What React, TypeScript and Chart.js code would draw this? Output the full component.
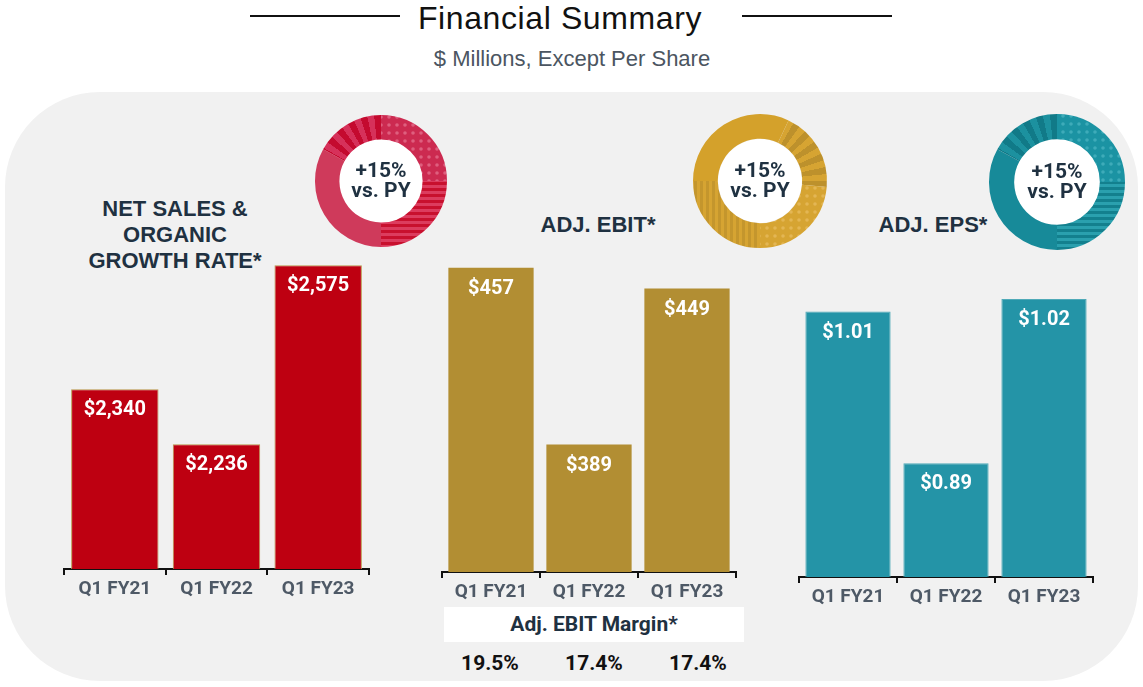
import React, { useEffect, useRef } from 'react';
import { Chart, registerables } from 'chart.js';

Chart.register(...registerables);

// ---------- data ----------
const categories = ['Q1 FY21', 'Q1 FY22', 'Q1 FY23'];
const netSales = [2340, 2236, 2575];
const adjEbit = [457, 389, 449];
const adjEps = [1.01, 0.89, 1.02];
const ebitMargins = ['19.5%', '17.4%', '17.4%'];
const growthVsPY = ['+15%', '+15%', '+15%'];

// decorative ring shares (percent of ring) and their fill styles
const redRingShares = [25, 25, 33, 17];
const redRingKinds = ['dots', 'hstripes', 'solid', 'radial'];
const goldRingShares = [32, 19.4, 23.6, 25];
const goldRingKinds = ['solid', 'radial', 'dots', 'vstripes'];
const tealRingShares = [25, 25, 33, 17];
const tealRingKinds = ['dots', 'hstripes', 'solid', 'radial'];

const DARK = '#1f3141';
const TICK = '#4e5966';

type Palette = { solid: string; a: string; b: string };

const redPal: Record<string, Palette> = {
  solid: { solid: '#cf3a5b', a: '#cf3a5b', b: '#cf3a5b' },
  dots: { solid: '#cc2a50', a: '#cc2a50', b: '#de5f7e' },
  hstripes: { solid: '#c8102e', a: '#c8102e', b: '#dc3c5e' },
  radial: { solid: '#c70d31', a: '#c40a2f', b: '#d6315a' },
};
const goldPal: Record<string, Palette> = {
  solid: { solid: '#d4a12b', a: '#d4a12b', b: '#d4a12b' },
  dots: { solid: '#d6a432', a: '#d6a432', b: '#e3b654' },
  vstripes: { solid: '#cc9a2c', a: '#c4962d', b: '#d6a432' },
  radial: { solid: '#c99a2a', a: '#bd912c', b: '#d6a432' },
};
const tealPal: Record<string, Palette> = {
  solid: { solid: '#178a99', a: '#178a99', b: '#178a99' },
  dots: { solid: '#1b93a3', a: '#1b93a3', b: '#3eabb9' },
  hstripes: { solid: '#13808e', a: '#13808e', b: '#2aa0ae' },
  radial: { solid: '#137e8c', a: '#117a88', b: '#1c919f' },
};

function makePattern(kind: string, p: Palette): CanvasPattern | string {
  const c = document.createElement('canvas');
  const g = c.getContext('2d');
  if (!g) return p.solid;
  if (kind === 'dots') {
    c.width = 8; c.height = 8;
    g.fillStyle = p.a; g.fillRect(0, 0, 8, 8);
    g.fillStyle = p.b; g.beginPath(); g.arc(4, 4, 1.8, 0, Math.PI * 2); g.fill();
  } else if (kind === 'hstripes') {
    c.width = 6; c.height = 6;
    g.fillStyle = p.a; g.fillRect(0, 0, 6, 6);
    g.fillStyle = p.b; g.fillRect(0, 0, 6, 3);
  } else if (kind === 'vstripes') {
    c.width = 6; c.height = 6;
    g.fillStyle = p.a; g.fillRect(0, 0, 6, 6);
    g.fillStyle = p.b; g.fillRect(0, 0, 3, 6);
  } else {
    return p.solid;
  }
  const host = document.createElement('canvas').getContext('2d');
  return (host && host.createPattern(c, 'repeat')) || p.solid;
}

function Donut(props: {
  cx: number; cy: number; r: number; shares: number[]; kinds: string[];
  pal: Record<string, Palette>; rotation: number; text: string;
}) {
  const ref = useRef<HTMLCanvasElement>(null);
  const { cx, cy, r, shares, kinds, pal, rotation, text } = props;
  const size = r * 2 + 4;
  useEffect(() => {
    const fills = kinds.map((k) => makePattern(k, pal[k]));
    const chart = new Chart(ref.current as HTMLCanvasElement, {
      type: 'doughnut',
      data: {
        labels: kinds,
        datasets: [{
          data: shares,
          borderWidth: 0,
          backgroundColor: (ctx: any) => {
            const k = kinds[ctx.dataIndex];
            if (k === 'radial') {
              const ch = ctx.chart;
              const area = ch.chartArea;
              if (!area || !(ch.ctx as any).createConicGradient) return pal[k].solid;
              const x = (area.left + area.right) / 2;
              const y = (area.top + area.bottom) / 2;
              const grad = (ch.ctx as any).createConicGradient(0, x, y);
              const n = 60;
              for (let i = 0; i < n; i++) {
                const col = i % 2 === 0 ? pal[k].a : pal[k].b;
                grad.addColorStop(i / n, col);
                grad.addColorStop((i + 1) / n - 0.0001, col);
              }
              return grad;
            }
            return fills[ctx.dataIndex];
          },
        }],
      },
      options: {
        animation: false,
        responsive: false,
        maintainAspectRatio: false,
        cutout: '63%',
        rotation,
        layout: { padding: 2 },
        plugins: { legend: { display: false }, tooltip: { enabled: false } },
      },
    });
    return () => chart.destroy();
  }, []);
  const inner = r * 0.63;
  const lines = [text, 'vs. PY'];
  return (
    <>
      <div style={{
        position: 'absolute', left: cx - inner, top: cy - inner, width: inner * 2, height: inner * 2,
        borderRadius: '50%', background: '#ffffff',
      }} />
      <canvas ref={ref} width={size} height={size}
        style={{ position: 'absolute', left: cx - size / 2, top: cy - size / 2, width: size, height: size }} />
      <div style={{
        position: 'absolute', left: cx - 50, top: cy - 21, width: 100, textAlign: 'center',
        fontFamily: 'Roboto', fontWeight: 700, fontSize: 21, lineHeight: '20px', color: DARK,
      }}>
        {lines.map((l, i) => <div key={i}>{l}</div>)}
      </div>
    </>
  );
}

function BarPanel(props: {
  left: number; top: number; width: number; height: number;
  values: number[]; min: number; max: number; color: string; border: string; borderWidth: number;
  fmt: (v: number) => string; barPct: number;
}) {
  const ref = useRef<HTMLCanvasElement>(null);
  const { left, top, width, height, values, min, max, color, border, borderWidth, fmt, barPct } = props;
  useEffect(() => {
    const labelPlugin = {
      id: 'barValues',
      afterDatasetsDraw(chart: any) {
        const ctx = chart.ctx;
        const meta = chart.getDatasetMeta(0);
        ctx.save();
        ctx.fillStyle = '#ffffff';
        ctx.font = 'bold 20px Roboto';
        ctx.textAlign = 'center';
        ctx.textBaseline = 'middle';
        meta.data.forEach((el: any, i: number) => {
          ctx.fillText(fmt(values[i]), el.x, el.y + 21);
        });
        ctx.restore();
      },
    };
    const chart = new Chart(ref.current as HTMLCanvasElement, {
      type: 'bar',
      data: {
        labels: categories,
        datasets: [{
          data: values,
          backgroundColor: color,
          borderColor: border,
          borderWidth,
          barPercentage: barPct,
          categoryPercentage: 1,
        }],
      },
      options: {
        animation: false,
        responsive: false,
        maintainAspectRatio: false,
        layout: { padding: { left: 4, right: 4, top: 0, bottom: 0 } },
        plugins: { legend: { display: false }, tooltip: { enabled: false } },
        scales: {
          x: {
            grid: {
              display: true, drawOnChartArea: false, drawTicks: true, tickLength: 6,
              color: '#111', lineWidth: 2, offset: true,
            },
            border: { display: true, color: '#111', width: 2 },
            ticks: { color: TICK, font: { family: 'Roboto', weight: 'bold', size: 19 }, padding: 3 },
            afterFit: (s: any) => { s.height = 40; },
          },
          y: { display: false, min, max },
        },
      },
      plugins: [labelPlugin],
    });
    return () => chart.destroy();
  }, []);
  return <canvas ref={ref} width={width} height={height}
    style={{ position: 'absolute', left, top, width, height }} />;
}

const money0 = (v: number) => '$' + v.toLocaleString('en-US');
const money2 = (v: number) => '$' + v.toFixed(2);

const titleStyle: React.CSSProperties = {
  position: 'absolute', fontFamily: '"Liberation Sans", Arial, sans-serif', fontWeight: 700,
  fontSize: 22, lineHeight: '26px', color: DARK, textAlign: 'center',
};

export default function App() {
  return (
    <div style={{ position: 'absolute', left: 0, top: 0, width: 1143, height: 687, background: '#ffffff', overflow: 'hidden' }}>
      {/* header */}
      <div style={{ position: 'absolute', left: 250, top: 15, width: 150, height: 2, background: '#111' }} />
      <div style={{ position: 'absolute', left: 742, top: 15, width: 150, height: 2, background: '#111' }} />
      <div style={{
        position: 'absolute', left: 360, top: -1, width: 400, textAlign: 'center',
        fontFamily: '"Liberation Sans", Arial, sans-serif', fontSize: 32, lineHeight: '38px',
        letterSpacing: 0.6, color: '#111',
      }}>Financial Summary</div>
      <div style={{
        position: 'absolute', left: 372, top: 45, width: 400, textAlign: 'center',
        fontFamily: '"Liberation Sans", Arial, sans-serif', fontSize: 22, lineHeight: '28px',
        color: '#4b5561',
      }}>$ Millions, Except Per Share</div>

      {/* panel background */}
      <div style={{
        position: 'absolute', left: 5, top: 92, width: 1133, height: 589,
        background: '#f1f1f1', borderRadius: 95,
      }} />

      {/* titles */}
      <div style={{ ...titleStyle, left: 55, top: 196, width: 240 }}>
        <div>NET SALES &amp;</div><div>ORGANIC</div><div>GROWTH RATE*</div>
      </div>
      <div style={{ ...titleStyle, left: 478, top: 212, width: 240 }}>ADJ. EBIT*</div>
      <div style={{ ...titleStyle, left: 813, top: 212, width: 240 }}>ADJ. EPS*</div>

      {/* donuts */}
      <Donut cx={381} cy={181} r={66} shares={redRingShares} kinds={redRingKinds} pal={redPal} rotation={0} text={growthVsPY[0]} />
      <Donut cx={760} cy={181} r={67} shares={goldRingShares} kinds={goldRingKinds} pal={goldPal} rotation={-90} text={growthVsPY[1]} />
      <Donut cx={1057} cy={182} r={68} shares={tealRingShares} kinds={tealRingKinds} pal={tealPal} rotation={0} text={growthVsPY[2]} />

      {/* bar charts */}
      <BarPanel left={60} top={252} width={313} height={357} values={netSales} min={2000} max={2600}
        color="#be0011" border="#b8964a" borderWidth={1} fmt={money0} barPct={0.86} />
      <BarPanel left={438} top={260} width={302} height={352} values={adjEbit} min={340} max={460}
        color="#b28e33" border="#b28e33" borderWidth={0} fmt={money0} barPct={0.87} />
      <BarPanel left={795} top={261} width={302} height={356} values={adjEps} min={0.8} max={1.05}
        color="#2494a7" border="#4faab8" borderWidth={1} fmt={money2} barPct={0.87} />

      {/* EBIT margin box */}
      <div style={{
        position: 'absolute', left: 444, top: 607, width: 300, height: 35, background: '#ffffff',
        fontFamily: 'Roboto', fontWeight: 700, fontSize: 21, lineHeight: '35px', color: DARK, textAlign: 'center',
      }}>Adj. EBIT Margin*</div>
      {ebitMargins.map((m, i) => (
        <div key={i} style={{
          position: 'absolute', left: 490 + i * 104 - 50, top: 650, width: 100, textAlign: 'center',
          fontFamily: 'Roboto', fontWeight: 700, fontSize: 21, lineHeight: '26px', color: '#111',
        }}>{m}</div>
      ))}
    </div>
  );
}
